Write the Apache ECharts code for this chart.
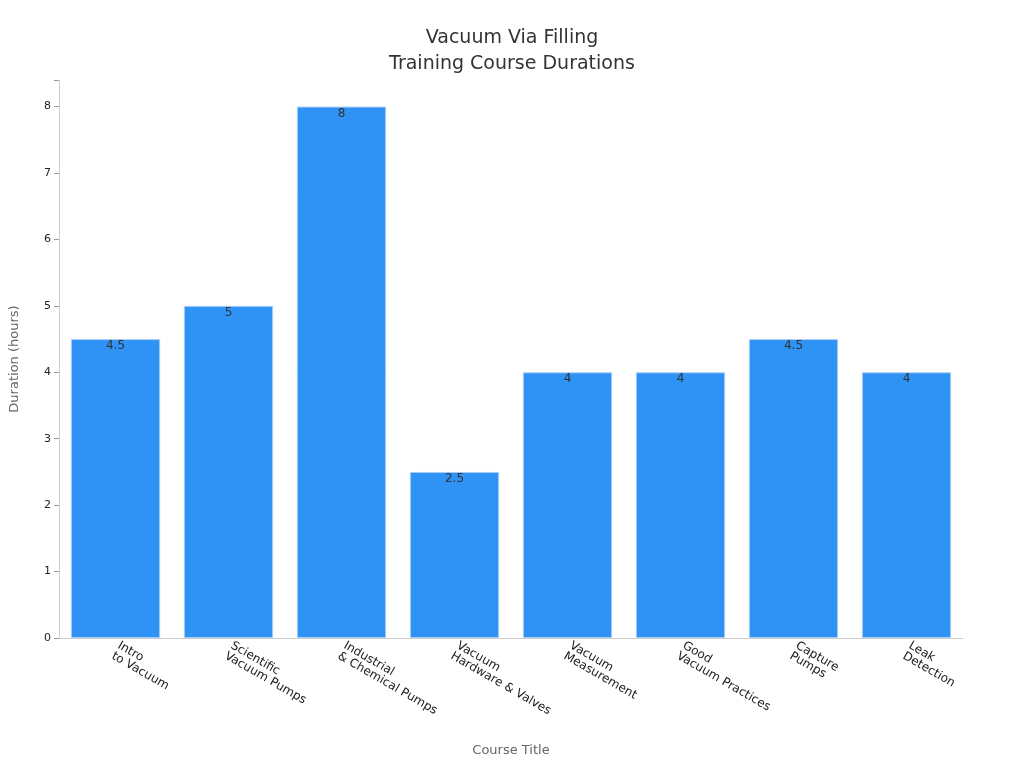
<!DOCTYPE html>
<html>
<head>
<meta charset="utf-8">
<script src="https://cdn.jsdelivr.net/npm/echarts@6/dist/echarts.min.js"></script>
<style>html,body{margin:0;padding:0;background:#fff}#chart{width:1024px;height:768px}</style>
</head>
<body>
<div id="chart"></div>
<script>
var courses = ['Intro\nto Vacuum', 'Scientific\nVacuum Pumps', 'Industrial\n& Chemical Pumps', 'Vacuum\nHardware & Valves',
    'Vacuum\nMeasurement', 'Good\nVacuum Practices', 'Capture\nPumps', 'Leak\nDetection'];
var hours = [4.5, 5, 8, 2.5, 4, 4, 4.5, 4];

var myChart = echarts.init(document.getElementById('chart'));

var option = {
    title: {
        text: 'Vacuum Via Filling\nTraining Course Durations',
        left: 'center',
        top: 20,
        textStyle: { fontSize: 19, fontWeight: 'normal', color: '#333', lineHeight: 26, fontFamily: 'DejaVu Sans' }
    },
    grid: { left: 59, right: 61, top: 80, bottom: 130 },
    xAxis: {
        type: 'category',
        data: courses,
        name: 'Course Title',
        nameLocation: 'middle',
        nameGap: 106,
        nameTextStyle: { fontSize: 13, color: '#666', fontFamily: 'DejaVu Sans' },
        axisLine: { lineStyle: { color: '#ccc' } },
        axisTick: { alignWithLabel: true, lineStyle: { color: '#999' } },
        axisLabel: { rotate: -30, interval: 0, fontSize: 12, color: '#222', fontFamily: 'DejaVu Sans', margin: 12 }
    },
    yAxis: {
        type: 'value',
        min: 0,
        max: 8.4,
        interval: 1,
        name: 'Duration (hours)',
        nameLocation: 'middle',
        nameGap: 38,
        nameTextStyle: { fontSize: 13, color: '#666', fontFamily: 'DejaVu Sans' },
        splitLine: { show: false },
        axisLine: { show: true, lineStyle: { color: '#ccc' } },
        axisTick: { show: true, lineStyle: { color: '#999' } },
        axisLabel: {
            fontSize: 11, color: '#222', fontFamily: 'DejaVu Sans',
            formatter: function (v) { return Number.isInteger(v) ? v : ''; }
        }
    },
    series: [{
        type: 'bar',
        data: hours,
        barWidth: '79%',
        itemStyle: { color: '#2E93F5', borderColor: '#a9cdf5', borderWidth: 1 },
        label: {
            show: true, position: 'insideTop', offset: [0, -4],
            color: '#333', fontSize: 12, fontFamily: 'DejaVu Sans'
        }
    }]
};

myChart.setOption(option);
</script>
</body>
</html>
